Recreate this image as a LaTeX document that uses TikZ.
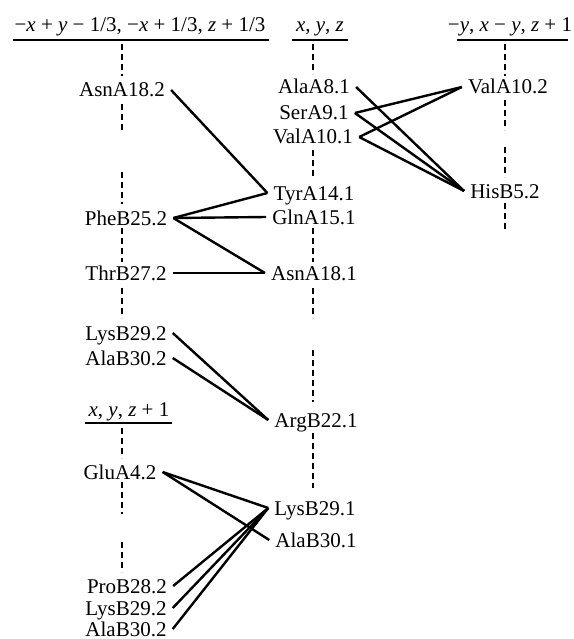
\documentclass[tikz,border=0pt]{standalone}
\usepackage{fontspec}
\setmainfont{Liberation Serif}
\begin{document}
\begin{tikzpicture}[x=1pt,y=-1pt,
  lab/.style={font=\fontsize{21}{24}\selectfont, inner xsep=6pt, inner ysep=1pt, text height=14pt, text depth=0pt},
  hdr/.style={font=\fontsize{21}{24}\selectfont, inner sep=0pt, anchor=base},
  hline/.style={line width=2.6pt},
  dsh/.style={line width=2.8pt, dash pattern=on 6pt off 4pt},
  con/.style={line width=2.4pt}]
\useasboundingbox (0,0) rectangle (573,639);
% headers
\node[hdr] (h1) at (140,32) {−\textit{x} + \textit{y} − 1/3, −\textit{x} + 1/3, \textit{z} + 1/3};
\node[hdr] (h2) at (320,32) {\textit{x}, \textit{y}, \textit{z}};
\node[hdr] (h3) at (510,32) {−\textit{y}, \textit{x} − \textit{y}, \textit{z} + 1};
\node[hdr] (h4) at (129,416) {\textit{x}, \textit{y}, \textit{z} + 1};
\coordinate (h1a) at (13,40); \coordinate (h1b) at (269,40);
\coordinate (h2a) at (292,40); \coordinate (h2b) at (348,40);
\coordinate (h3a) at (457,40); \coordinate (h3b) at (568,40);
\coordinate (h4a) at (85,423); \coordinate (h4b) at (172,423);
\draw[hline] (h1a) -- (h1b);
\draw[hline] (h2a) -- (h2b);
\draw[hline] (h3a) -- (h3b);
\draw[hline] (h4a) -- (h4b);
% dashed column segments
\draw[dsh] (122,44) -- (122,76);
\draw[dsh] (122,104) -- (122,132);
\draw[dsh] (122,172) -- (122,204);
\draw[dsh] (122,228) -- (122,262);
\draw[dsh] (122,288) -- (122,318);
\draw[dsh] (122,428) -- (122,458);
\draw[dsh] (122,482) -- (122,514);
\draw[dsh] (122,542) -- (122,572);
\draw[dsh] (313,44) -- (313,74);
\draw[dsh] (313,150) -- (313,178);
\draw[dsh] (313,228) -- (313,262);
\draw[dsh] (313,288) -- (313,318);
\draw[dsh] (313,350) -- (313,402);
\draw[dsh] (313,433) -- (313,488);
\draw[dsh] (505,44) -- (505,76);
\draw[dsh] (505,100) -- (505,130);
\draw[dsh] (505,147) -- (505,177);
\draw[dsh] (505,203) -- (505,232);
% left column
\node[lab] (asn18b) at (122,90) {AsnA18.2};
\node[lab] (phe25b) at (126,218) {PheB25.2};
\node[lab] (thr27b) at (126,273) {ThrB27.2};
\node[lab] (lys29b) at (126,333) {LysB29.2};
\node[lab] (ala30b) at (126,358) {AlaB30.2};
\node[lab] (glu4b) at (120,472) {GluA4.2};
\node[lab] (pro28b) at (127,586) {ProB28.2};
\node[lab] (lys29c) at (126,608) {LysB29.2};
\node[lab] (ala30c) at (126,629) {AlaB30.2};
% middle column
\node[lab] (ala8a) at (314,87) {AlaA8.1};
\node[lab] (ser9a) at (314,113) {SerA9.1};
\node[lab] (val10a) at (313,137) {ValA10.1};
\node[lab] (tyr14a) at (314,193) {TyrA14.1};
\node[lab] (gln15a) at (314,217) {GlnA15.1};
\node[lab] (asn18a) at (314,273) {AsnA18.1};
\node[lab] (arg22a) at (316,420) {ArgB22.1};
\node[lab] (lys29a) at (315,508) {LysB29.1};
\node[lab] (ala30a) at (316,540) {AlaB30.1};
% right column
\node[lab] (val10c) at (508,87) {ValA10.2};
\node[lab] (his5c) at (505,191) {HisB5.2};
% connectors
\draw[con] (asn18b.east) -- (tyr14a.west);
\draw[con] (phe25b.east) -- (tyr14a.west);
\draw[con] (phe25b.east) -- (gln15a.west);
\draw[con] (phe25b.east) -- (asn18a.west);
\draw[con] (thr27b.east) -- (asn18a.west);
\draw[con] (ala8a.east) -- (his5c.west);
\draw[con] (ser9a.east) -- (val10c.west);
\draw[con] (ser9a.east) -- (his5c.west);
\draw[con] (val10a.east) -- (val10c.west);
\draw[con] (val10a.east) -- (his5c.west);
\draw[con] (lys29b.east) -- (arg22a.west);
\draw[con] (ala30b.east) -- (arg22a.west);
\draw[con] (glu4b.east) -- (lys29a.west);
\draw[con] (glu4b.east) -- (ala30a.west);
\draw[con] (pro28b.east) -- (lys29a.west);
\draw[con] (lys29c.east) -- (lys29a.west);
\draw[con] (ala30c.east) -- (lys29a.west);
\end{tikzpicture}
\end{document}
